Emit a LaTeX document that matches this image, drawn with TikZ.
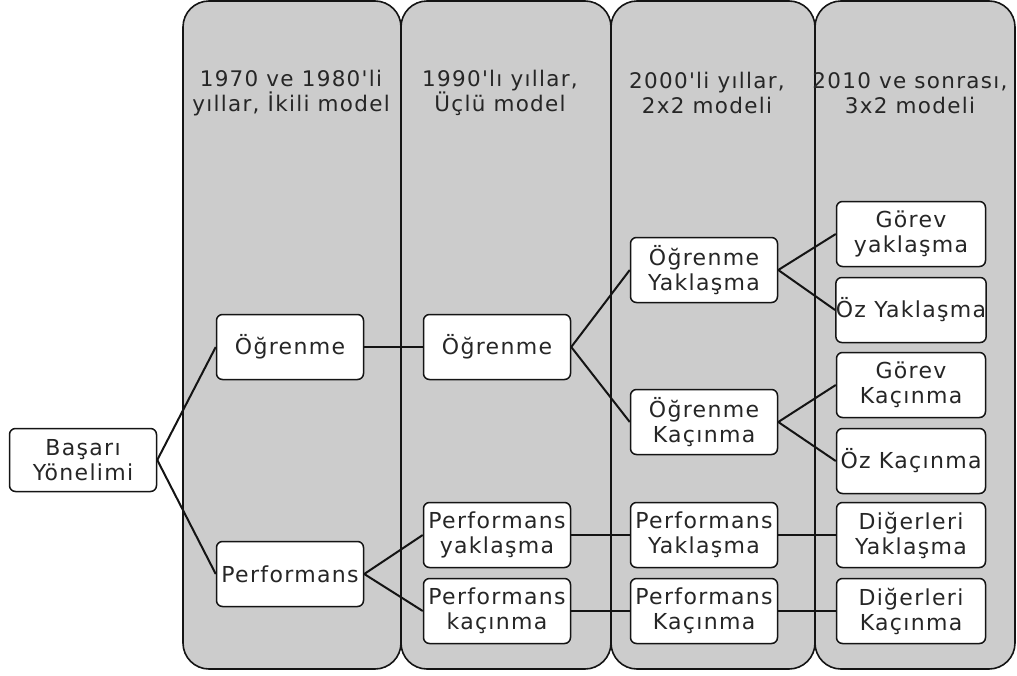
\documentclass[tikz,border=0pt]{standalone}
\usepackage{fontspec}
\setmainfont{DejaVu Sans}
\newfontfamily\reffont[LetterSpace=6]{DejaVu Sans}
\definecolor{colgray}{RGB}{204,204,204}
\definecolor{edgecol}{RGB}{20,20,20}
\begin{document}
\begin{tikzpicture}[x=1pt,y=-1pt,
  colbox/.style={draw=edgecol,fill=colgray,line width=1.6pt,rounded corners=26pt},
  head/.style={align=center,font=\reffont\fontsize{21.5}{25}\selectfont,text=black!85,inner sep=0pt},
  box/.style={draw=edgecol,fill=white,line width=1.5pt,rounded corners=6pt,
    minimum width=147pt,minimum height=65pt,inner sep=0pt,align=center,
    font=\reffont\fontsize{22}{25}\selectfont,text=black!85},
  conn/.style={draw=edgecol,line width=2pt}]
\useasboundingbox (0,0) rectangle (1017,675);
% columns
\draw[colbox] (183,1) rectangle (401,669);
\draw[colbox] (401,1) rectangle (611,669);
\draw[colbox] (611,1) rectangle (815,669);
\draw[colbox] (815,1) rectangle (1015,669);
% headers
\node[head] (h1) at (291,93) {1970 ve 1980'li\\yıllar, İkili model};
\node[head] (h2) at (500,93) {1990'lı yıllar,\\Üçlü model};
\node[head] (h3) at (707,93) {2000'li yıllar,\\2x2 modeli};
\node[head] (h4) at (910,93) {2010 ve sonrası,\\3x2 modeli};
% nodes
\node[box,minimum height=63pt] (bas) at (83,460) {Başarı\\Yönelimi};
\node[box] (og1) at (290,347) {Öğrenme};
\node[box] (pf1) at (290,574) {Performans};
\node[box] (og2) at (497,347) {Öğrenme};
\node[box] (py2) at (497,535) {Performans\\yaklaşma};
\node[box] (pk2) at (497,611) {Performans\\kaçınma};
\node[box] (oy3) at (704,270) {Öğrenme\\Yaklaşma};
\node[box] (ok3) at (704,422) {Öğrenme\\Kaçınma};
\node[box] (py3) at (704,535) {Performans\\Yaklaşma};
\node[box] (pk3) at (704,611) {Performans\\Kaçınma};
\node[box,minimum width=149pt] (gy4) at (911,234) {Görev\\yaklaşma};
\node[box,minimum width=149pt] (oy4) at (911,310) {Öz Yaklaşma};
\node[box,minimum width=149pt] (gk4) at (911,385) {Görev\\Kaçınma};
\node[box,minimum width=149pt] (ok4) at (911,461) {Öz Kaçınma};
\node[box,minimum width=149pt] (dy4) at (911,535) {Diğerleri\\Yaklaşma};
\node[box,minimum width=149pt] (dk4) at (911,611) {Diğerleri\\Kaçınma};
% connectors
\draw[conn] (bas.east) -- (og1.west);
\draw[conn] (bas.east) -- (pf1.west);
\draw[conn] (og1.east) -- (og2.west);
\draw[conn] (pf1.east) -- (py2.west);
\draw[conn] (pf1.east) -- (pk2.west);
\draw[conn] (og2.east) -- (oy3.west);
\draw[conn] (og2.east) -- (ok3.west);
\draw[conn] (py2.east) -- (py3.west);
\draw[conn] (pk2.east) -- (pk3.west);
\draw[conn] (oy3.east) -- (gy4.west);
\draw[conn] (oy3.east) -- (oy4.west);
\draw[conn] (ok3.east) -- (gk4.west);
\draw[conn] (ok3.east) -- (ok4.west);
\draw[conn] (py3.east) -- (dy4.west);
\draw[conn] (pk3.east) -- (dk4.west);
\end{tikzpicture}
\end{document}
